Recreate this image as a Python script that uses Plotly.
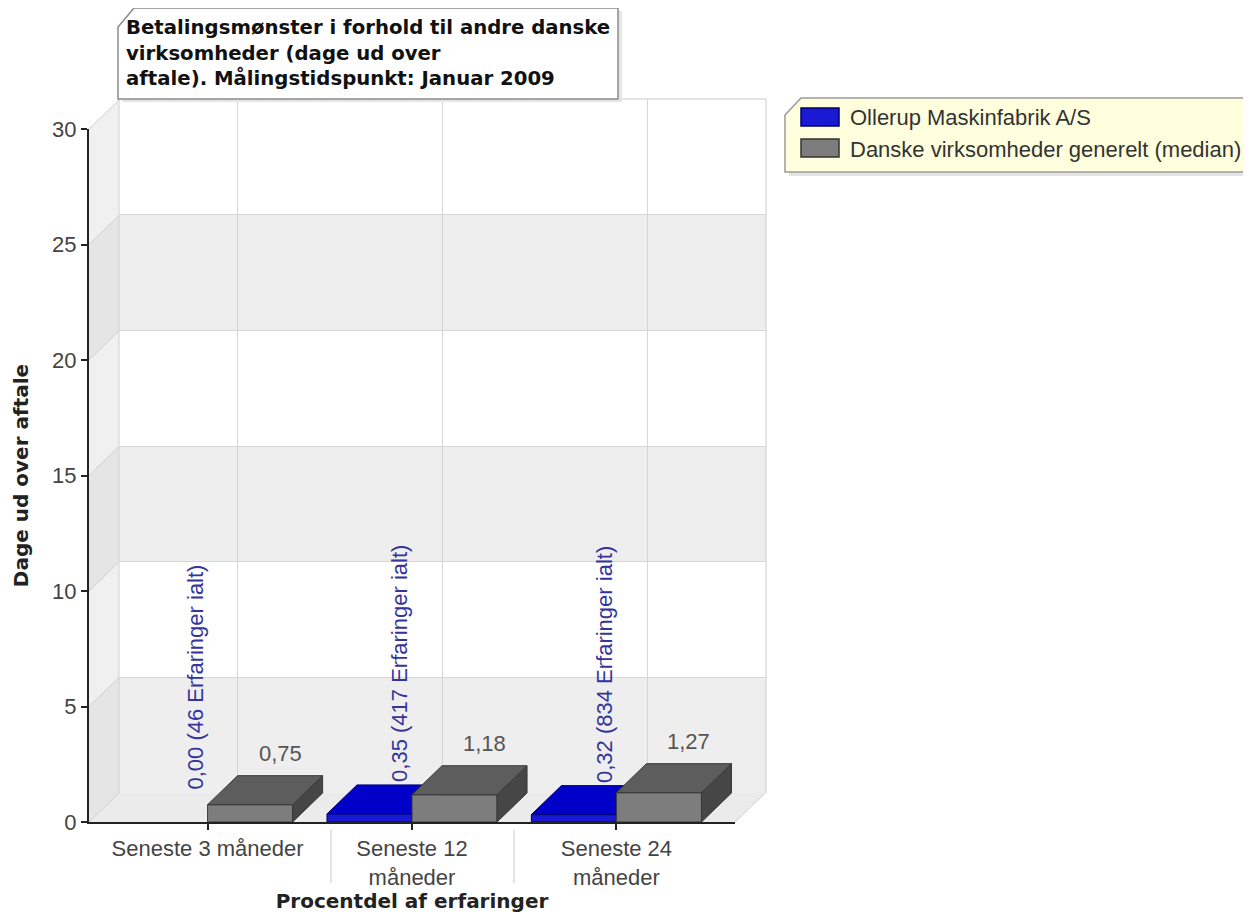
import plotly.graph_objects as go

# ---------------- data ----------------
CATEGORIES = ["Seneste 3 måneder", "Seneste 12<br>måneder", "Seneste 24<br>måneder"]
COMPANY = [0.00, 0.35, 0.32]          # Ollerup Maskinfabrik A/S
MEDIAN = [0.75, 1.18, 1.27]           # Danske virksomheder generelt (median)
EXPERIENCES = [46, 417, 834]
SERIES_NAMES = ["Ollerup Maskinfabrik A/S", "Danske virksomheder generelt (median)"]
Y_TICKS = [0, 5, 10, 15, 20, 25, 30]
TITLE = "Betalingsmønster i forhold til andre danske<br>virksomheder (dage ud over<br>aftale). Målingstidspunkt: Januar 2009"
Y_TITLE = "Dage ud over aftale"
X_TITLE = "Procentdel af erfaringer"

# ---------------- geometry / style ----------------
OFF = 8                                    # page body margin of the browser
W, H = 1251 - OFF, 913 - OFF
PL, PR, PT, PB = 89, 766, 99, 822          # overall plot area (window px)
FRONT_R, FRONT_T = 735, 129                # front plane right / top (window px)
DEPTH_X, DEPTH_Y = 30, 29                  # pseudo-3D depth (px)
X_RANGE = [-0.58, 2.58]
Y_RANGE = [0, 30]
BAR_W = 0.416

SX = (FRONT_R - PL) / (X_RANGE[1] - X_RANGE[0])   # px per x unit
SY = (PB - FRONT_T) / (Y_RANGE[1] - Y_RANGE[0])   # px per y unit
DXU = DEPTH_X / SX
DYU = DEPTH_Y / SY


def px(x):
    return (x - PL) / (PR - PL)


def py(y):
    return (PB - y) / (PB - PT)


def fy(v):  # front y data -> px
    return PB - v * SY


REG = "Liberation Sans"
BOLD = "DejaVu Sans"

BLUE_FRONT, BLUE_TOP, BLUE_SIDE, BLUE_EDGE = "#1a1ad4", "#0000c8", "#00008c", "#00007a"
GREY_FRONT, GREY_TOP, GREY_SIDE, GREY_EDGE = "#7d7d7d", "#5d5d5d", "#464646", "#383838"

idx = list(range(len(CATEGORIES)))

fig = go.Figure()

# invisible trace to create the back-wall subplot
fig.add_trace(go.Scatter(x=[None], y=[None], xaxis="x", yaxis="y", showlegend=False, hoverinfo="skip"))


def add_faces(lefts, values, top_c, side_c, edge_c, xa, ya):
    for xl, v in zip(lefts, values):
        if v <= 0:
            continue
        xr = xl + BAR_W
        fig.add_trace(go.Scatter(
            x=[xl, xr, xr, xl, xl], y=[0, 0, v, v, 0],
            mode="lines", line=dict(color=edge_c, width=1),
            xaxis=xa, yaxis=ya, showlegend=False, hoverinfo="skip"))
        fig.add_trace(go.Scatter(
            x=[xr, xr + DXU, xr + DXU, xr, xr], y=[0, DYU, v + DYU, v, 0],
            fill="toself", fillcolor=side_c, mode="lines", line=dict(color=edge_c, width=1),
            xaxis=xa, yaxis=ya, showlegend=False, hoverinfo="skip"))
        fig.add_trace(go.Scatter(
            x=[xl, xr, xr + DXU, xl + DXU, xl], y=[v, v, v + DYU, v + DYU, v],
            fill="toself", fillcolor=top_c, mode="lines", line=dict(color=edge_c, width=1),
            xaxis=xa, yaxis=ya, showlegend=False, hoverinfo="skip"))


# company bars (front subplot)
fig.add_trace(go.Bar(
    x=idx, y=COMPANY, width=BAR_W, offset=-BAR_W, name=SERIES_NAMES[0],
    marker=dict(color=BLUE_FRONT, line=dict(width=0)),
    xaxis="x2", yaxis="y2"))
add_faces([i - BAR_W for i in idx], COMPANY, BLUE_TOP, BLUE_SIDE, BLUE_EDGE, "x2", "y2")

# median bars (overlay subplot, drawn on top)
fig.add_trace(go.Bar(
    x=idx, y=MEDIAN, width=BAR_W, offset=0, name=SERIES_NAMES[1],
    marker=dict(color=GREY_FRONT, line=dict(width=0)),
    xaxis="x3", yaxis="y3"))
add_faces(list(idx), MEDIAN, GREY_TOP, GREY_SIDE, GREY_EDGE, "x3", "y3")

# ---------------- shapes ----------------
shapes = []


def poly(points, fill, line_color=None, width=0, layer="below"):
    d = "M " + " L ".join(f"{px(a):.5f},{py(b):.5f}" for a, b in points) + " Z"
    return dict(type="path", xref="paper", yref="paper", path=d, fillcolor=fill,
                line=dict(color=line_color or fill, width=width), layer=layer)


def seg(p0, p1, color, width=1, layer="below"):
    return dict(type="line", xref="paper", yref="paper", x0=px(p0[0]), y0=py(p0[1]),
                x1=px(p1[0]), y1=py(p1[1]), line=dict(color=color, width=width), layer=layer)


# back wall bands
for k in range(len(Y_TICKS) - 1):
    if k % 2 == 0:
        shapes.append(dict(type="rect", xref="x domain", yref="y", x0=0, x1=1,
                           y0=Y_TICKS[k], y1=Y_TICKS[k + 1], fillcolor="#eeeeee",
                           line=dict(width=0), layer="below"))

# left wall strips
for k in range(len(Y_TICKS) - 1):
    a, b = Y_TICKS[k], Y_TICKS[k + 1]
    col = "#e5e5e5" if k % 2 == 0 else "#f0f0f0"
    shapes.append(poly([(PL, fy(a)), (PL + DEPTH_X, fy(a) - DEPTH_Y),
                        (PL + DEPTH_X, fy(b) - DEPTH_Y), (PL, fy(b))], col))
# floor
shapes.append(poly([(PL, PB), (FRONT_R, PB), (FRONT_R + DEPTH_X, PB - DEPTH_Y),
                    (PL + DEPTH_X, PB - DEPTH_Y)], "#ebebeb"))
# edges of the walls
for v in Y_TICKS:
    shapes.append(seg((PL, fy(v)), (PL + DEPTH_X, fy(v) - DEPTH_Y), "#d0d0d0"))
shapes.append(seg((FRONT_R, PB), (FRONT_R + DEPTH_X, PB - DEPTH_Y), "#cccccc"))
shapes.append(seg((PR, PT), (PR, PB - DEPTH_Y), "#cccccc"))
shapes.append(seg((PL + DEPTH_X, PT), (PR, PT), "#cccccc"))
shapes.append(seg((PL + DEPTH_X, PT), (PL + DEPTH_X, PB - DEPTH_Y), "#d0d0d0"))

# tick label separators
for xs in (331, 514):
    shapes.append(seg((xs, 830), (xs, 883), "#c8c8c8", 1, "above"))

# title box with shadow
TB = [(118, 99), (118, 27), (134, 8), (618, 8), (618, 99)]
shapes.append(poly([(a + 4, b + 3) for a, b in TB], "#e6e6e6", layer="above"))
shapes.append(poly(TB, "#ffffff", "#8a8a8a", 1.5, "above"))

# legend box with shadow and swatches
LB = [(785, 115), (801, 98), (1260, 98), (1260, 172), (785, 172)]
shapes.append(poly([(a + 4, b + 4) for a, b in LB], "#e4e4e4", layer="above"))
shapes.append(poly(LB, "#ffffdd", "#9a9a9a", 1.5, "above"))
shapes.append(poly([(801, 108), (839, 108), (839, 126), (801, 126)], BLUE_FRONT, "#00006a", 1.5, "above"))
shapes.append(poly([(801, 139), (839, 139), (839, 157), (801, 157)], GREY_FRONT, "#333333", 1.5, "above"))

# ---------------- annotations ----------------
ann = []
ann.append(dict(text=TITLE, xref="paper", yref="paper", x=px(124), y=py(53),
                xanchor="left", yanchor="middle", align="left", showarrow=False,
                font=dict(family=BOLD, size=19.7, color="#111111", weight="bold")))

for i, v, n in zip(idx, COMPANY, EXPERIENCES):
    ann.append(dict(text=f"{v:.2f}".replace(".", ",") + f" ({n} Erfaringer ialt)",
                    xref="x2", yref="y2", x=i - BAR_W / 2 + DXU, y=v + DYU,
                    xanchor="center", yanchor="bottom", textangle=-90, yshift=1,
                    showarrow=False, font=dict(family=REG, size=22, color="#34349c")))
for i, v in zip(idx, MEDIAN):
    ann.append(dict(text=f"{v:.2f}".replace(".", ","),
                    xref="x2", yref="y2", x=i + BAR_W / 2 + DXU, y=v + DYU,
                    xanchor="center", yanchor="bottom", yshift=8,
                    showarrow=False, font=dict(family=REG, size=22, color="#555555")))

# ---------------- layout ----------------
fig.update_layout(
    width=W, height=H,
    margin=dict(l=PL - OFF, r=W - (PR - OFF), t=PT - OFF, b=H - (PB - OFF), autoexpand=False),
    paper_bgcolor="white", plot_bgcolor="rgba(0,0,0,0)",
    showlegend=True,
    legend=dict(x=px(810), y=py(96), xanchor="left", yanchor="top",
                bgcolor="rgba(0,0,0,0)", borderwidth=0, itemwidth=30,
                font=dict(family=REG, size=22, color="#333333"),
                traceorder="normal", itemclick=False, itemdoubleclick=False),
    shapes=shapes, annotations=ann,
    xaxis=dict(domain=[px(PL + DEPTH_X), 1], range=X_RANGE, tickvals=idx,
               showticklabels=False, ticks="", showgrid=True, gridcolor="#d6d6d6",
               gridwidth=1, zeroline=False, showline=False, fixedrange=True),
    yaxis=dict(domain=[py(PB - DEPTH_Y), 1], range=Y_RANGE, tickvals=Y_TICKS,
               showticklabels=False, ticks="", showgrid=True, gridcolor="#d6d6d6",
               gridwidth=1, zeroline=False, showline=False, fixedrange=True),
    xaxis2=dict(domain=[0, px(FRONT_R)], range=X_RANGE, anchor="y2",
                tickvals=idx, ticktext=CATEGORIES, ticks="outside", ticklen=6,
                tickwidth=1.5, tickcolor="#222222", showline=True, linecolor="#222222",
                linewidth=2, showgrid=False, zeroline=False, fixedrange=True,
                tickfont=dict(family=REG, size=22, color="#444444"),
                title=dict(text=X_TITLE, standoff=0,
                           font=dict(family=BOLD, size=20, color="#222222", weight="bold"))),
    yaxis2=dict(domain=[0, py(FRONT_T)], range=Y_RANGE, anchor="x2",
                tickvals=Y_TICKS, ticks="outside", ticklen=6, tickwidth=1.5,
                tickcolor="#222222", showline=True, linecolor="#222222", linewidth=2,
                showgrid=False, zeroline=False, fixedrange=True,
                tickfont=dict(family=REG, size=22, color="#444444"),
                title=dict(text=Y_TITLE, standoff=18,
                           font=dict(family=BOLD, size=20, color="#222222", weight="bold"))),
    xaxis3=dict(overlaying="x2", range=X_RANGE, visible=False, anchor="y3", fixedrange=True),
    yaxis3=dict(overlaying="y2", range=Y_RANGE, visible=False, anchor="x3", fixedrange=True),
    bargap=0,
)

fig.write_html("out.html")
